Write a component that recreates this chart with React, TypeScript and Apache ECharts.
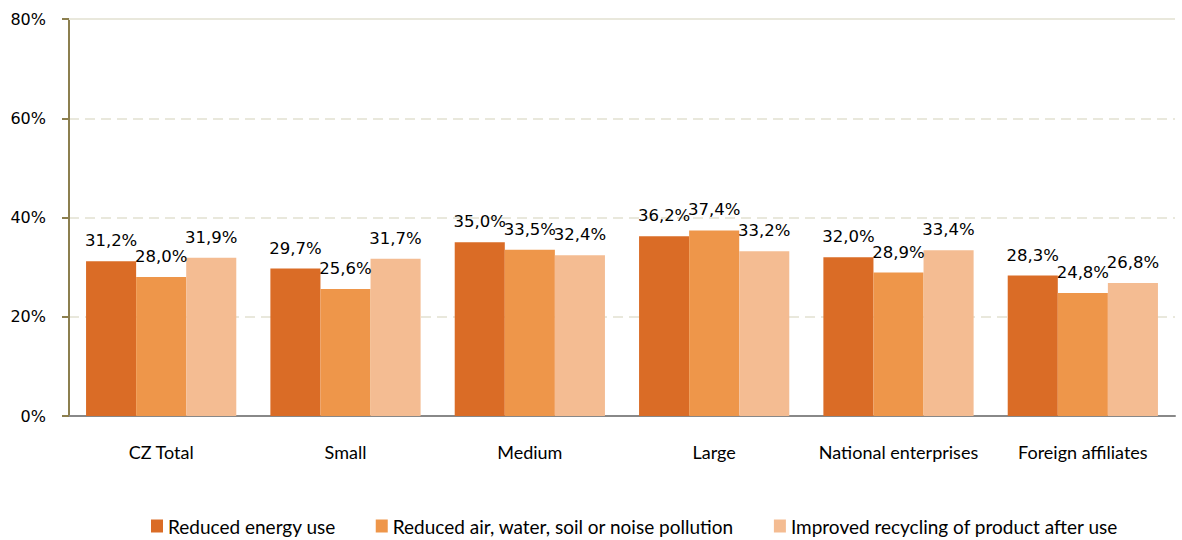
import React, { useEffect, useRef } from "react";
import * as echarts from "echarts";

const categories = ["CZ Total", "Small", "Medium", "Large", "National enterprises", "Foreign affiliates"];
const seriesNames = [
  "Reduced energy use",
  "Reduced air, water, soil or noise pollution",
  "Improved recycling of product after use",
];
const energy = [31.2, 29.7, 35.0, 36.2, 32.0, 28.3];
const pollution = [28.0, 25.6, 33.5, 37.4, 28.9, 24.8];
const recycling = [31.9, 31.7, 32.4, 33.2, 33.4, 26.8];
const yTicks = [0, 20, 40, 60, 80];
const colors = ["#DA6C26", "#EE964A", "#F4BC92"];

export default function App() {
  const ref = useRef<HTMLDivElement>(null);
  useEffect(() => {
    if (!ref.current) return;
    const chart = echarts.init(ref.current, null, { renderer: "svg" });
    const data = [energy, pollution, recycling];
    chart.setOption({
      animation: false,
      grid: { left: 69, right: 7, top: 19, bottom: 124, containLabel: false },
      legend: {
        left: 146,
        top: 510,
        itemWidth: 12,
        itemHeight: 13,
        itemGap: 40,
        icon: "rect",
        textStyle: { fontFamily: "Lato", fontSize: 19, lineHeight: 22, color: "#000" },
        data: seriesNames,
      },
      xAxis: {
        type: "category",
        data: categories,
        axisLine: { lineStyle: { color: "#888888", width: 2 } },
        axisTick: { show: false },
        axisLabel: { fontFamily: "Lato", fontSize: 18, color: "#000", margin: 27, interval: 0 },
      },
      yAxis: {
        type: "value",
        min: yTicks[0],
        max: yTicks[yTicks.length - 1],
        interval: 20,
        axisLine: { show: true, lineStyle: { color: "#8C7F4F", width: 2 } },
        axisTick: { show: true, length: 7, lineStyle: { color: "#8C7F4F", width: 2 } },
        axisLabel: {
          fontFamily: "DejaVu Sans",
          fontSize: 16,
          color: "#000",
          margin: 23,
          formatter: (v: number) => v + "%",
        },
        splitLine: { lineStyle: { color: "#E9E8DC", width: 2, type: [10, 6] } },
      },
      series: seriesNames.map((name, i) => ({
        name,
        type: "bar",
        data: data[i],
        barGap: "0%",
        barCategoryGap: "18.5%",
        itemStyle: { color: colors[i] },
        label: {
          show: true,
          position: "top",
          distance: 12,
          fontFamily: "DejaVu Sans",
          fontSize: 16.5,
          color: "#000",
          formatter: (p: any) => p.value.toFixed(1).replace(".", ",") + "%",
        },
        markLine:
          i === 0
            ? {
                silent: true,
                symbol: "none",
                label: { show: false },
                lineStyle: { color: "#E9E8DC", width: 2, type: "solid" },
                data: [{ yAxis: 80 }],
              }
            : undefined,
      })),
    });
    return () => chart.dispose();
  }, []);
  return <div ref={ref} style={{ width: 1182, height: 540, position: "absolute", left: 0, top: 0 }} />;
}
